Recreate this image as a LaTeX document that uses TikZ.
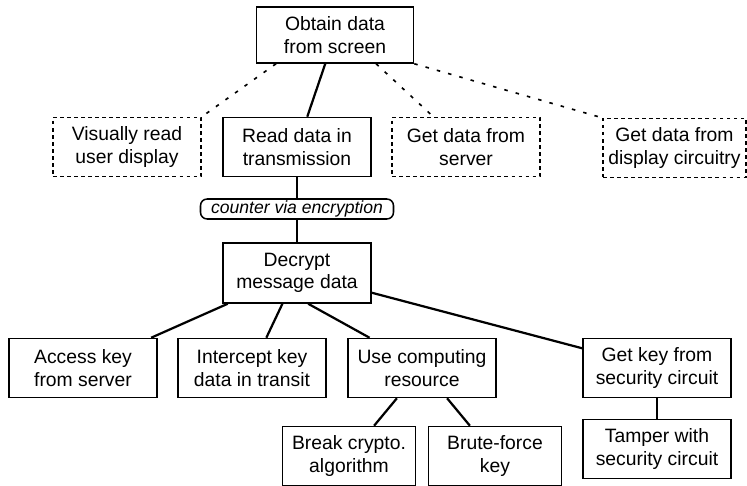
\documentclass[tikz,border=0pt]{standalone}
\usepackage{fontspec}
\setmainfont{Liberation Sans}
\begin{document}
\begin{tikzpicture}[x=0.03cm,y=-0.03cm,
	box/.style={draw,line width=1.3pt,align=center,inner sep=0pt,minimum width=4.44cm,minimum height=1.77cm,font=\fontsize{16.5}{19}\selectfont},
	dbox/.style={box,line width=1.1pt,dash pattern=on 3pt off 3pt},
	link/.style={line width=1.9pt},
	dlink/.style={line width=1.4pt,dash pattern=on 3pt off 7pt}]
	\useasboundingbox (0,0) rectangle (747,486);
	\node[box,minimum width=4.71cm,minimum height=1.68cm] (obtain) at (335,35) {Obtain data\\from screen};
	\node[dbox] (visual) at (127,147) {Visually read\\user display};
	\node[box] (read) at (297,147) {Read data in\\transmission};
	\node[dbox] (server) at (466,147) {Get data from\\server};
	\node[dbox,minimum width=4.29cm] (display) at (674.5,148) {Get data from\\display circuitry};
	\node[draw,line width=1.3pt,rounded corners=0.2cm,inner sep=0pt,minimum width=5.79cm,minimum height=0.6cm,font=\fontsize{15}{17}\selectfont\itshape] (counter) at (297,209) {counter via encryption};
	\node[box,minimum height=1.8cm] (decrypt) at (297,273) {Decrypt\\message data};
	\node[box] (access) at (83,368) {Access key\\from server};
	\node[box] (intercept) at (252,368) {Intercept key\\data in transit};
	\node[box] (use) at (422,368) {Use computing\\resource};
	\node[box] (getkey) at (657,368) {Get key from\\security circuit};
	\node[box,minimum width=3.99cm] (break) at (349,456) {Break crypto.\\algorithm};
	\node[box,minimum width=3.99cm] (brute) at (495,456) {Brute-force\\key};
	\node[box] (tamper) at (657,449) {Tamper with\\security circuit};
	\draw[link] (obtain)--(read);
	\draw[dlink] (obtain.206)--(visual.north east);
	\draw[dlink] (obtain.325)--(server);
	\draw[dlink] (obtain.south east)--(display.north west);
	\draw[link] (read)--(counter);
	\draw[link] (counter)--(decrypt);
	\draw[link] (decrypt)--(access);
	\draw[link] (decrypt)--(intercept);
	\draw[link] (decrypt.290)--(use.150);
	\draw[link] (decrypt)--(getkey);
	\draw[link] (use)--(break);
	\draw[link] (use)--(brute);
	\draw[link] (getkey)--(tamper);
\end{tikzpicture}
\end{document}
